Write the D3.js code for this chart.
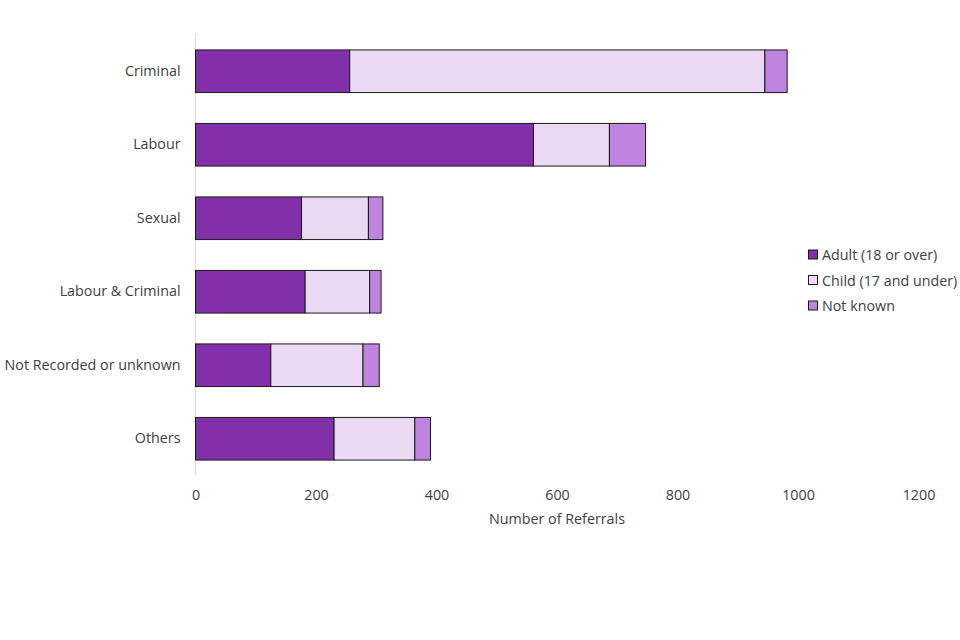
<!DOCTYPE html>
<html><head><meta charset="utf-8">
<script src="https://cdn.jsdelivr.net/npm/d3@7"></script>
<style>body{margin:0;background:#fff}svg text{font-family:"Open Sans",sans-serif;fill:#404040}</style>
</head><body><svg id="c" width="960" height="640"></svg>
<script>
const categories = ["Criminal","Labour","Sexual","Labour & Criminal","Not Recorded or unknown","Others"];
const seriesNames = ["Adult (18 or over)","Child (17 and under)","Not known"];
const adult = [256, 561, 176, 182, 125, 230];
const child = [689, 126, 111, 107, 153, 134];
const notKnown = [37, 60, 24, 19, 27, 26];
const xTicks = [0,200,400,600,800,1000,1200];
const colors = ["#8130AA","#ECD9F4","#C183E0"];

const svg = d3.select("#c");
const x = d3.scaleLinear().domain([0,1200]).range([195.5,918.5]);
const y = d3.scaleBand().domain(categories).range([34.5,475.5]).paddingInner(0.42).paddingOuter(0.21);

const rows = categories.map((c,i)=>({cat:c, a:adult[i], b:child[i], n:notKnown[i]}));
const stack = d3.stack().keys(["a","b","n"])(rows);

// axis line
svg.append("line").attr("x1",x(0)).attr("x2",x(0)).attr("y1",33).attr("y2",475)
  .attr("stroke","#d9d9d9").attr("stroke-width",1);

stack.forEach((layer,li)=>{
  svg.append("g").selectAll("rect").data(layer).join("rect")
    .attr("x",d=>x(d[0])).attr("width",d=>x(d[1])-x(d[0]))
    .attr("y",d=>y(d.data.cat)).attr("height",y.bandwidth())
    .attr("fill",colors[li]).attr("stroke","#1a1a1a").attr("stroke-width",1);
});

// category labels
const ya = svg.append("g").attr("transform",`translate(${x(0)},0)`)
  .call(d3.axisLeft(y).tickSize(0).tickPadding(15));
ya.select(".domain").remove();
ya.selectAll("text").style("font-size","14.3px").attr("fill","#404040");

// x axis
const xa = svg.append("g").attr("transform","translate(0,484)")
  .call(d3.axisBottom(x).tickValues(xTicks).tickSize(0).tickPadding(6).tickFormat(d3.format("d")));
xa.select(".domain").remove();
xa.selectAll("text").style("font-size","14.3px").attr("fill","#404040");

svg.append("text").attr("x",557).attr("y",524).attr("text-anchor","middle")
  .style("font-size","14.3px").text("Number of Referrals");

// legend
const lg = svg.append("g");
seriesNames.forEach((s,i)=>{
  const yy = 255 + i*25.5;
  lg.append("rect").attr("x",808.5).attr("y",yy-5).attr("width",9).attr("height",9)
    .attr("fill",colors[i]).attr("stroke","#1a1a1a").attr("stroke-width",1);
  lg.append("text").attr("x",822).attr("y",yy+5).style("font-size","14.3px").text(s);
});
</script></body></html>
